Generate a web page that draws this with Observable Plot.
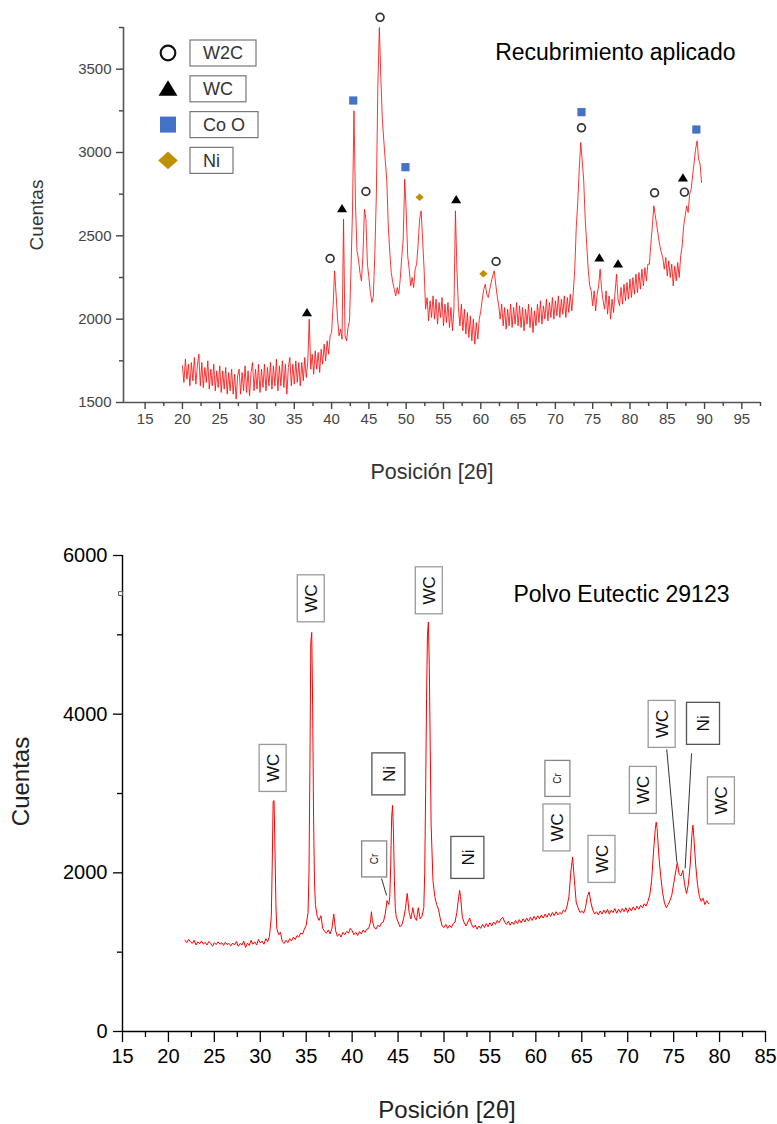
<!DOCTYPE html>
<html><head><meta charset="utf-8">
<script src="https://cdn.jsdelivr.net/npm/d3@7"></script>
<script src="https://cdn.jsdelivr.net/npm/@observablehq/plot@0.6"></script>
<style>
html,body{margin:0;padding:0;background:#fff;}
body{width:777px;height:1124px;overflow:hidden;font-family:"Liberation Sans",Arial,sans-serif;}
#top,#bottom{display:block;}
svg{display:block;}
</style></head><body>
<div id="top"></div><div id="bottom"></div>
<script>
// ---------------- DATA: top pattern "Recubrimiento aplicado" ----------------
const coatingPattern = [
[20.0,1720],[20.2,1620],[20.4,1760],[20.6,1640],[20.8,1730],[21.0,1600],[21.2,1740],[21.4,1630],[21.6,1770],[21.8,1610],
[22.0,1720],[22.2,1790],[22.4,1600],[22.6,1740],[22.8,1590],[23.0,1710],[23.2,1620],[23.4,1750],[23.6,1580],[23.8,1700],
[24.0,1600],[24.2,1730],[24.4,1570],[24.6,1690],[24.8,1590],[25.0,1720],[25.2,1560],[25.4,1690],[25.6,1580],[25.8,1710],
[26.0,1550],[26.2,1680],[26.4,1570],[26.6,1700],[26.8,1550],[27.0,1670],[27.2,1520],[27.4,1660],[27.6,1700],[27.8,1550],
[28.0,1680],[28.2,1570],[28.4,1720],[28.6,1560],[28.8,1690],[29.0,1540],[29.2,1680],[29.4,1740],[29.6,1570],[29.8,1700],
[30.0,1580],[30.2,1730],[30.4,1560],[30.6,1700],[30.8,1590],[31.0,1730],[31.2,1570],[31.4,1710],[31.6,1600],[31.8,1740],
[32.0,1580],[32.2,1720],[32.4,1600],[32.6,1760],[32.8,1570],[33.0,1720],[33.2,1600],[33.4,1750],[33.6,1590],[33.8,1730],
[34.0,1550],[34.2,1710],[34.4,1770],[34.6,1600],[34.8,1730],[35.0,1610],[35.2,1750],[35.4,1620],[35.6,1740],[35.8,1600],
[36.0,1740],[36.2,1630],[36.4,1770],[36.6,1650],[36.8,1740],[37.0,2000],[37.2,1700],[37.4,1790],[37.6,1670],[37.8,1810],
[38.0,1700],[38.2,1800],[38.4,1680],[38.6,1820],[38.8,1730],[39.0,1850],[39.2,1750],[39.4,1870],[39.6,1790],[39.8,1900],
[40.0,1920],[40.2,2080],[40.4,2290],[40.6,2150],[40.8,2000],[41.0,1900],[41.2,1940],[41.4,1880],[41.6,2600],[41.8,1900],
[42.0,1870],[42.2,1950],[42.4,1990],[42.6,2300],[42.8,2650],[43.0,3250],[43.2,2700],[43.4,2410],[43.6,2360],[43.8,2280],
[44.0,2230],[44.2,2380],[44.4,2660],[44.6,2600],[44.8,2330],[45.0,2250],[45.2,2160],[45.4,2100],[45.6,2140],[45.8,2400],
[46.0,2750],[46.2,3400],[46.4,3750],[46.6,3450],[46.8,3200],[47.0,3070],[47.2,2950],[47.4,2830],[47.6,2560],[47.8,2400],
[48.0,2280],[48.2,2220],[48.4,2180],[48.6,2140],[48.8,2190],[49.0,2150],[49.2,2240],[49.4,2370],[49.6,2480],[49.8,2840],
[50.0,2650],[50.2,2380],[50.4,2300],[50.6,2200],[50.8,2250],[51.0,2190],[51.2,2300],[51.4,2330],[51.6,2450],[51.8,2600],
[52.0,2650],[52.2,2480],[52.4,2300],[52.6,2060],[52.8,2130],[53.0,1990],[53.2,2110],[53.4,2010],[53.6,2140],[53.8,2000],
[54.0,2120],[54.2,1970],[54.4,2100],[54.6,2010],[54.8,2130],[55.0,1960],[55.2,2090],[55.4,1980],[55.6,2100],[55.8,1950],
[56.0,2070],[56.2,1930],[56.4,2060],[56.6,2650],[56.8,2300],[57.0,2070],[57.2,1960],[57.4,2090],[57.6,1930],[57.8,2060],
[58.0,1910],[58.2,2040],[58.4,1890],[58.6,2020],[58.8,1870],[59.0,2000],[59.2,1850],[59.4,1980],[59.6,1880],[59.8,2000],
[60.0,2050],[60.2,2120],[60.4,2180],[60.6,2210],[60.8,2150],[61.0,2130],[61.2,2180],[61.4,2220],[61.6,2260],[61.8,2290],
[62.0,2210],[62.2,2140],[62.4,2080],[62.6,2000],[62.8,2090],[63.0,1960],[63.2,2070],[63.4,1940],[63.6,2060],[63.8,1960],
[64.0,2090],[64.2,1950],[64.4,2070],[64.6,1970],[64.8,2100],[65.0,1960],[65.2,2080],[65.4,1950],[65.6,2070],[65.8,1930],
[66.0,2060],[66.2,1970],[66.4,2090],[66.6,1950],[66.8,2070],[67.0,1920],[67.2,2050],[67.4,1960],[67.6,2090],[67.8,1980],
[68.0,2110],[68.2,1970],[68.4,2080],[68.6,2000],[68.8,2120],[69.0,1990],[69.2,2100],[69.4,2010],[69.6,2130],[69.8,2000],
[70.0,2110],[70.2,2020],[70.4,2140],[70.6,2010],[70.8,2120],[71.0,2030],[71.2,2140],[71.4,2010],[71.6,2130],[71.8,2040],
[72.0,2150],[72.2,2050],[72.4,2160],[72.6,2300],[72.8,2550],[73.0,2700],[73.2,2900],[73.4,3060],[73.6,2950],[73.8,2830],
[74.0,2600],[74.2,2450],[74.4,2300],[74.6,2200],[74.8,2170],[75.0,2080],[75.2,2170],[75.4,2050],[75.6,2150],[75.8,2200],
[76.0,2300],[76.2,2180],[76.4,2110],[76.6,2060],[76.8,2170],[77.0,2030],[77.2,2140],[77.4,2000],[77.6,2120],[77.8,2040],
[78.0,2160],[78.2,2270],[78.4,2120],[78.6,2080],[78.8,2190],[79.0,2090],[79.2,2210],[79.4,2110],[79.6,2220],[79.8,2120],
[80.0,2240],[80.2,2130],[80.4,2250],[80.6,2150],[80.8,2270],[81.0,2160],[81.2,2280],[81.4,2180],[81.6,2300],[81.8,2200],
[82.0,2310],[82.2,2230],[82.4,2330],[82.6,2330],[82.8,2450],[83.0,2560],[83.2,2680],[83.4,2620],[83.6,2560],[83.8,2500],
[84.0,2440],[84.2,2400],[84.4,2370],[84.6,2300],[84.8,2370],[85.0,2260],[85.2,2350],[85.4,2250],[85.6,2330],[85.8,2200],
[86.0,2320],[86.2,2230],[86.4,2340],[86.6,2250],[86.8,2380],[87.0,2440],[87.2,2560],[87.4,2620],[87.6,2680],[87.8,2640],
[88.0,2750],[88.2,2780],[88.4,2860],[88.6,2940],[88.8,3020],[89.0,3070],[89.2,2960],[89.4,2930],[89.6,2820]
];

// phase markers above the peaks of the top pattern
const coatingMarkers = [
  {phase:"WC", theta:36.7, counts:2040},
  {phase:"W2C", theta:39.8, counts:2364},
  {phase:"WC", theta:41.4, counts:2664},
  {phase:"Co O", theta:42.9, counts:3312},
  {phase:"W2C", theta:44.6, counts:2766},
  {phase:"W2C", theta:46.5, counts:3811},
  {phase:"Co O", theta:49.9, counts:2912},
  {phase:"Ni", theta:51.8, counts:2732},
  {phase:"WC", theta:56.7, counts:2718},
  {phase:"Ni", theta:60.35, counts:2272},
  {phase:"W2C", theta:62.05, counts:2346},
  {phase:"Co O", theta:73.5, counts:3242},
  {phase:"W2C", theta:73.5, counts:3148},
  {phase:"WC", theta:75.9, counts:2368},
  {phase:"WC", theta:78.4, counts:2332},
  {phase:"W2C", theta:83.3, counts:2758},
  {phase:"WC", theta:87.1, counts:2848},
  {phase:"W2C", theta:87.3, counts:2762},
  {phase:"Co O", theta:88.9, counts:3138}
];
const legendPhases = ["W2C","WC","Co O","Ni"];
const topXTicks = [15,20,25,30,35,40,45,50,55,60,65,70,75,80,85,90,95];
const topXMinorTicks = [17.5,22.5,27.5,32.5,37.5,42.5,47.5,52.5,57.5,62.5,67.5,72.5,77.5,82.5,87.5,92.5,97.5];
const topYTicks = [1500,2000,2500,3000,3500];
const topYMinorTicks = [1750,2250,2750,3250,3750];
const topTitle = "Recubrimiento aplicado";

// ---------------- DATA: bottom pattern "Polvo Eutectic 29123" ----------------
const powderPattern = [
[21.8,1150],[22.0,1120],[22.2,1160],[22.4,1130],[22.6,1110],[22.8,1150],[23.0,1090],[23.2,1130],[23.4,1105],[23.6,1140],
[23.8,1100],[24.0,1125],[24.2,1090],[24.4,1135],[24.6,1110],[24.8,1075],[25.0,1120],[25.2,1095],[25.4,1130],[25.6,1100],
[25.8,1120],[26.0,1085],[26.2,1125],[26.4,1095],[26.6,1110],[26.8,1080],[27.0,1115],[27.2,1090],[27.4,1135],[27.6,1075],
[27.8,1110],[28.0,1090],[28.2,1140],[28.4,1060],[28.6,1115],[28.8,1085],[29.0,1150],[29.2,1100],[29.4,1130],[29.6,1090],
[29.8,1160],[30.0,1115],[30.2,1140],[30.4,1100],[30.6,1170],[30.8,1130],[31.0,1200],[31.2,1450],[31.3,2100],[31.4,2900],
[31.5,2910],[31.6,2300],[31.7,1600],[31.8,1300],[32.0,1220],[32.2,1250],[32.4,1130],[32.6,1110],[32.8,1150],[33.0,1120],
[33.2,1170],[33.4,1140],[33.6,1190],[33.8,1160],[34.0,1210],[34.2,1190],[34.4,1240],[34.6,1230],[34.8,1290],[35.0,1340],
[35.2,1500],[35.3,2000],[35.4,3300],[35.5,4900],[35.6,5030],[35.7,4100],[35.8,2700],[35.9,1900],[36.0,1600],[36.2,1450],
[36.4,1400],[36.6,1460],[36.8,1300],[37.0,1260],[37.2,1240],[37.4,1280],[37.6,1230],[37.8,1300],[38.0,1480],[38.2,1270],
[38.4,1200],[38.6,1230],[38.8,1190],[39.0,1250],[39.2,1220],[39.4,1260],[39.6,1240],[39.8,1300],[40.0,1270],[40.2,1220],
[40.4,1250],[40.6,1210],[40.8,1260],[41.0,1230],[41.2,1280],[41.4,1250],[41.6,1290],[41.8,1300],[42.0,1380],[42.1,1510],
[42.2,1400],[42.4,1310],[42.6,1290],[42.8,1340],[43.0,1320],[43.2,1370],[43.4,1380],[43.6,1480],[43.8,1650],[44.0,1600],
[44.1,1700],[44.2,2100],[44.3,2700],[44.4,2850],[44.5,2500],[44.6,1900],[44.7,1550],[44.8,1450],[45.0,1380],[45.2,1320],
[45.4,1340],[45.6,1420],[45.8,1550],[46.0,1740],[46.2,1500],[46.4,1420],[46.6,1560],[46.8,1440],[47.0,1400],[47.2,1560],
[47.4,1420],[47.6,1450],[47.8,1560],[47.9,2000],[48.0,3000],[48.1,4200],[48.2,5000],[48.3,5160],[48.4,4600],[48.5,3600],
[48.6,2600],[48.8,1900],[49.0,1700],[49.2,1600],[49.4,1540],[49.6,1420],[49.8,1330],[50.0,1310],[50.2,1350],[50.4,1300],
[50.6,1340],[50.8,1310],[51.0,1360],[51.2,1380],[51.4,1500],[51.6,1700],[51.7,1780],[51.8,1700],[52.0,1440],[52.2,1370],
[52.4,1330],[52.6,1380],[52.8,1430],[53.0,1350],[53.2,1310],[53.4,1340],[53.6,1290],[53.8,1330],[54.0,1300],[54.2,1350],
[54.4,1310],[54.6,1360],[54.8,1320],[55.0,1370],[55.2,1330],[55.4,1380],[55.6,1350],[55.8,1400],[56.0,1370],[56.2,1420],
[56.4,1440],[56.6,1380],[56.8,1350],[57.0,1390],[57.2,1340],[57.4,1380],[57.6,1350],[57.8,1400],[58.0,1360],[58.2,1410],
[58.4,1370],[58.6,1420],[58.8,1380],[59.0,1430],[59.2,1390],[59.4,1440],[59.6,1400],[59.8,1450],[60.0,1410],[60.2,1460],
[60.4,1420],[60.6,1470],[60.8,1430],[61.0,1480],[61.2,1440],[61.4,1490],[61.6,1450],[61.8,1500],[62.0,1460],[62.2,1510],
[62.4,1470],[62.6,1500],[62.8,1480],[63.0,1530],[63.2,1510],[63.4,1580],[63.6,1700],[63.8,2000],[64.0,2200],[64.2,1900],
[64.4,1620],[64.6,1560],[64.8,1500],[65.0,1520],[65.2,1490],[65.4,1560],[65.6,1700],[65.8,1760],[66.0,1620],[66.2,1530],
[66.4,1480],[66.6,1510],[66.8,1470],[67.0,1520],[67.2,1480],[67.4,1530],[67.6,1490],[67.8,1540],[68.0,1480],[68.2,1530],
[68.4,1500],[68.6,1550],[68.8,1490],[69.0,1540],[69.2,1500],[69.4,1550],[69.6,1510],[69.8,1560],[70.0,1500],[70.2,1560],
[70.4,1520],[70.6,1570],[70.8,1530],[71.0,1580],[71.2,1540],[71.4,1590],[71.6,1560],[71.8,1610],[72.0,1580],[72.2,1640],
[72.4,1720],[72.6,1900],[72.8,2250],[73.0,2550],[73.1,2640],[73.2,2560],[73.4,2200],[73.6,1950],[73.8,1750],[74.0,1620],
[74.2,1560],[74.4,1600],[74.6,1650],[74.8,1720],[75.0,1860],[75.2,2000],[75.4,2130],[75.6,1980],[75.8,1960],[76.0,2030],
[76.2,1850],[76.4,1740],[76.6,1850],[76.8,2100],[77.0,2500],[77.1,2600],[77.2,2450],[77.4,2100],[77.6,1850],[77.8,1700],
[78.0,1640],[78.2,1680],[78.4,1600],[78.6,1650],[78.8,1610]
];
const powderLabels = [
  {label:"WC", theta:31.4,  counts:3316},
  {label:"WC", theta:35.55, counts:5454},
  {label:"Ni", theta:44.0,  counts:3241},
  {label:"Cr", theta:42.45, counts:2169},
  {label:"WC", theta:48.4,  counts:5555},
  {label:"Ni", theta:52.6,  counts:2188},
  {label:"Cr", theta:62.4,  counts:3184},
  {label:"WC", theta:62.3,  counts:2566},
  {label:"WC", theta:67.2,  counts:2169},
  {label:"WC", theta:71.7,  counts:3039},
  {label:"WC", theta:73.75, counts:3871},
  {label:"Ni", theta:78.25, counts:3878},
  {label:"WC", theta:80.2,  counts:2907}
];
const powderLeaders = [
  {theta1:43.2,  counts1:1929, theta2:43.75, counts2:1715},
  {theta1:74.25, counts1:3556, theta2:75.35, counts2:2135},
  {theta1:76.95, counts1:3506, theta2:76.25, counts2:2055}
];
const powderAxisMark = [{theta:15, counts:5520}];
const bottomXTicks = [15,20,25,30,35,40,45,50,55,60,65,70,75,80,85];
const bottomXMinorTicks = [17.5,22.5,27.5,32.5,37.5,42.5,47.5,52.5,57.5,62.5,67.5,72.5,77.5,82.5];
const bottomYTicks = [0,2000,4000,6000];
const bottomYMinorTicks = [1000,3000,5000];
const bottomTitle = "Polvo Eutectic 29123";
const xLabel = "Posición [2θ]";
const yLabel = "Cuentas";

// ---------------- STYLES ----------------
const FONT = '"Liberation Sans", Arial, Helvetica, sans-serif';
const cvs = document.createElement("canvas").getContext("2d");
function textWidth(t, size){ cvs.font = `${size}px ${FONT}`; return cvs.measureText(t).width; }
const plain = d => `${d}`;

function rr(size){ return Math.sqrt(size/Math.PI); }
const symSquare = {draw(c,size){const r=rr(size); c.moveTo(-r,-r); c.lineTo(r,-r); c.lineTo(r,r); c.lineTo(-r,r); c.closePath();}};
const symTriangle = {draw(c,size){const r=rr(size); c.moveTo(0,-r*1.05); c.lineTo(r*1.15,r*0.85); c.lineTo(-r*1.15,r*0.85); c.closePath();}};
const symDiamond = {draw(c,size){const r=rr(size); c.moveTo(0,-r*0.9); c.lineTo(r,0); c.lineTo(0,r*0.9); c.lineTo(-r,0); c.closePath();}};
const phaseStyle = {
  "W2C": {symbol:"circle", fill:"none", stroke:"#333", sw:1.7, r:3.9, lr:7.3, lsw:2.2},
  "WC":  {symbol:symTriangle, fill:"#000", stroke:"none", sw:0, r:4.4, lr:8.2, lsw:0},
  "Co O":{symbol:symSquare, fill:"#4472c4", stroke:"none", sw:0, r:4.1, lr:8.0, lsw:0},
  "Ni":  {symbol:symDiamond, fill:"#bf9000", stroke:"none", sw:0, r:4.2, lr:9.8, lsw:0}
};
const boxStyle = {
  "WC": {w:27, h:47, font:17, stroke:"#9a9a9a"},
  "Ni": {w:33, h:42, font:17, stroke:"#555"},
  "Cr": {w:25, h:36, font:10, stroke:"#888"}
};

// ---------------- TOP CHART ----------------
const topXDomain = [12.1, 97.5];
const topYDomain = [1500, 3750];
const topAxisColor = "#555";

function topLegend(index, scales, values, dims){
  const g = d3.create("svg:g");
  const sx = dims.marginLeft + 45, sy = dims.marginTop + 26, step = 35.8, fs = 18;
  legendPhases.forEach((p, i) => {
    const st = phaseStyle[p];
    const y = sy + i*step;
    const sym = typeof st.symbol === "string" ? d3.symbolCircle : st.symbol;
    g.append("path")
      .attr("d", d3.symbol(sym, Math.PI*st.lr*st.lr)())
      .attr("transform", `translate(${sx},${y})`)
      .attr("fill", st.fill).attr("stroke", st.stroke === "none" ? null : "#111")
      .attr("stroke-width", st.lsw);
    const bw = textWidth(p, fs) + 26, bh = 26, bx = sx + 22;
    g.append("rect").attr("x", bx).attr("y", y - bh/2).attr("width", bw).attr("height", bh)
      .attr("fill", "white").attr("stroke", "#777").attr("stroke-width", 1.2);
    g.append("text").attr("x", bx + bw/2).attr("y", y).attr("dy", "0.36em")
      .attr("text-anchor", "middle").attr("font-size", fs).attr("fill", "#333").text(p);
  });
  return g.node();
}

const topMarks = [
  Plot.ruleX([topXDomain[0]], {stroke: topAxisColor, strokeWidth: 1.6}),
  Plot.ruleY([topYDomain[0]], {stroke: topAxisColor, strokeWidth: 1.6}),
  Plot.axisX(topXTicks, {tickSize: 7, tickPadding: 4, fontSize: 15, color: "#444", label: null, strokeWidth: 1.4, tickFormat: plain}),
  Plot.axisX(topXMinorTicks, {tickSize: 4, tickFormat: () => "", color: "#444", label: null, strokeWidth: 1.4}),
  Plot.axisY(topYTicks, {tickSize: 7, tickPadding: 5, fontSize: 15, color: "#444", label: null, strokeWidth: 1.4, tickFormat: plain}),
  Plot.axisY(topYMinorTicks, {tickSize: 4, tickFormat: () => "", color: "#444", label: null, strokeWidth: 1.4}),
  Plot.line(coatingPattern, {x: d => d[0], y: d => d[1], stroke: "#ff1010", strokeWidth: 0.9, strokeOpacity: 0.95})
];
for (const p of legendPhases) {
  const st = phaseStyle[p];
  topMarks.push(Plot.dot(coatingMarkers.filter(d => d.phase === p), {
    x: "theta", y: "counts", symbol: st.symbol, r: st.r,
    fill: st.fill, stroke: st.stroke, strokeWidth: st.sw
  }));
}
topMarks.push(
  Plot.text([topTitle], {frameAnchor: "top-right", dx: -25, dy: 16, textAnchor: "end", lineAnchor: "top", fontSize: 23, fill: "#000"}),
  Plot.text([xLabel], {frameAnchor: "bottom", dx: -10, dy: 70, textAnchor: "middle", lineAnchor: "middle", fontSize: 21.5, fill: "#333"}),
  Plot.text([yLabel], {frameAnchor: "left", dx: -87, rotate: -90, textAnchor: "middle", lineAnchor: "middle", fontSize: 19, fill: "#333"}),
  topLegend
);

const topChart = Plot.plot({
  width: 777, height: 500,
  marginLeft: 123, marginRight: 17, marginTop: 27, marginBottom: 98,
  style: {fontFamily: FONT, fontSize: "15px", background: "white", overflow: "visible"},
  x: {domain: topXDomain, label: null},
  y: {domain: topYDomain, label: null},
  marks: topMarks
});
document.getElementById("top").append(topChart);

// ---------------- BOTTOM CHART ----------------
const botXDomain = [15, 85];
const botYDomain = [0, 6000];

function powderBoxes(index, scales, values, dims){
  const g = d3.create("svg:g");
  for (const d of powderLabels) {
    const st = boxStyle[d.label];
    const cx = scales.x(d.theta), cy = scales.y(d.counts);
    g.append("rect").attr("x", cx - st.w/2).attr("y", cy - st.h/2).attr("width", st.w).attr("height", st.h)
      .attr("fill", "white").attr("stroke", st.stroke).attr("stroke-width", 1.3);
    g.append("text").attr("transform", `translate(${cx},${cy}) rotate(-90)`)
      .attr("text-anchor", "middle").attr("dy", "0.36em").attr("font-size", st.font).attr("fill", "#111").text(d.label);
  }
  return g.node();
}

const bottomChart = Plot.plot({
  width: 777, height: 624,
  marginLeft: 122, marginRight: 12, marginTop: 55, marginBottom: 93,
  style: {fontFamily: FONT, fontSize: "20px", background: "white", overflow: "visible"},
  x: {domain: botXDomain, label: null},
  y: {domain: botYDomain, label: null},
  marks: [
    Plot.ruleX([botXDomain[0]], {stroke: "#000", strokeWidth: 1.4}),
    Plot.ruleY([botYDomain[0]], {stroke: "#000", strokeWidth: 1.4}),
    Plot.axisX(bottomXTicks, {tickSize: 11, tickPadding: 6, fontSize: 20, color: "#000", label: null, strokeWidth: 1.3, tickFormat: plain}),
    Plot.axisX(bottomXMinorTicks, {tickSize: 6, tickFormat: () => "", color: "#000", label: null, strokeWidth: 1.3}),
    Plot.axisY(bottomYTicks, {tickSize: 9, tickPadding: 6, fontSize: 20, color: "#000", label: null, strokeWidth: 1.3, tickFormat: plain}),
    Plot.axisY(bottomYMinorTicks, {tickSize: 5, tickFormat: () => "", color: "#000", label: null, strokeWidth: 1.3}),
    Plot.dot(powderAxisMark, {x: "theta", y: "counts", symbol: "square", r: 2.2, fill: "white", stroke: "#555", strokeWidth: 1, dx: -2}),
    Plot.line(powderPattern, {x: d => d[0], y: d => d[1], stroke: "#ff0000", strokeWidth: 1}),
    Plot.link(powderLeaders, {x1: "theta1", y1: "counts1", x2: "theta2", y2: "counts2", stroke: "#333", strokeWidth: 1}),
    powderBoxes,
    Plot.text([bottomTitle], {frameAnchor: "top-right", dx: -36, dy: 30, textAnchor: "end", lineAnchor: "top", fontSize: 23, fill: "#000"}),
    Plot.text([xLabel], {frameAnchor: "bottom", dx: 3, dy: 79, textAnchor: "middle", lineAnchor: "middle", fontSize: 24, fill: "#222"}),
    Plot.text([yLabel], {frameAnchor: "left", dx: -101, dy: -12, rotate: -90, textAnchor: "middle", lineAnchor: "middle", fontSize: 24, fill: "#222"})
  ]
});
document.getElementById("bottom").append(bottomChart);
</script></body></html>
